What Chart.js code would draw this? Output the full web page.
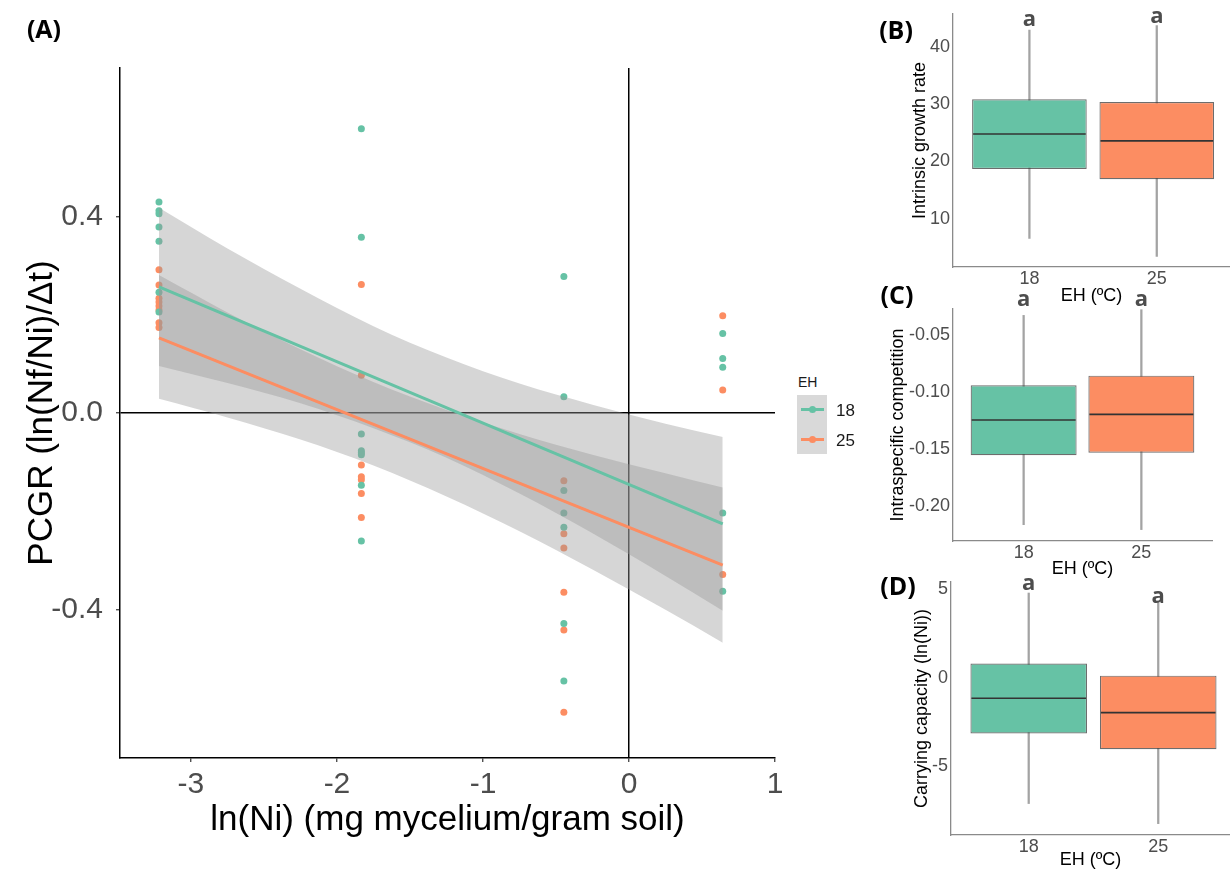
<!DOCTYPE html>
<html>
<head>
<meta charset="utf-8">
<script src="https://cdn.jsdelivr.net/npm/chart.js@4.4.1/dist/chart.umd.min.js"></script>
<style>
html,body{margin:0;padding:0;background:#fff;}
#wrap{position:relative;width:1230px;height:871px;overflow:hidden;background:#fff;font-family:'Liberation Sans',Arial,sans-serif;}
canvas{position:absolute;}
.plab{position:absolute;font-family:'Open Sans',sans-serif;font-weight:700;font-size:25px;line-height:1;transform:translate(-50%,-50%);color:#000;white-space:nowrap;}
.lg{position:absolute;font-family:'Liberation Sans',Arial,sans-serif;line-height:1;transform:translateY(-50%);color:#1a1a1a;white-space:nowrap;}
.klin{position:absolute;width:23px;height:3px;}
.kdot{position:absolute;width:7px;height:7px;border-radius:50%;}
</style>
</head>
<body>
<div id="wrap">
<canvas id="cA" width="790" height="871" style="left:0px;top:0px"></canvas>
<canvas id="cB" width="360" height="310" style="left:870px;top:0px"></canvas>
<canvas id="cC" width="360" height="300" style="left:870px;top:280px"></canvas>
<canvas id="cD" width="360" height="306" style="left:870px;top:565px"></canvas>

<div class="plab" style="left:44px;top:28px">(A)</div>
<div class="plab" style="left:896px;top:29px">(B)</div>
<div class="plab" style="left:897px;top:294px">(C)</div>
<div class="plab" style="left:898px;top:585px">(D)</div>

<div class="lg" style="left:798px;top:382px;font-size:14px">EH</div>
<div style="position:absolute;left:797px;top:395px;width:30px;height:59px;background:#D9D9D9"></div>
<div class="klin" style="left:801px;top:408px;background:#66C2A5"></div>
<div class="kdot" style="left:808.5px;top:406px;background:#66C2A5"></div>
<div class="klin" style="left:801px;top:438px;background:#FC8D62"></div>
<div class="kdot" style="left:808.5px;top:436px;background:#FC8D62"></div>
<div class="lg" style="left:836px;top:410px;font-size:17px">18</div>
<div class="lg" style="left:836px;top:440px;font-size:17px">25</div>
</div>

<script>
// ---------------- data: panel A ----------------
const nickel = [-3.219, -1.833, -0.446, 0.642];
const pcgr18 = [
  [0.430, 0.412, 0.406, 0.379, 0.350, 0.246, 0.206],
  [0.579, 0.358, -0.043, -0.077, -0.081, -0.085, -0.147, -0.261],
  [0.278, 0.033, -0.158, -0.204, -0.233, -0.429, -0.546],
  [0.162, 0.111, 0.093, -0.204, -0.363]
];
const pcgr25 = [
  [0.292, 0.261, 0.234, 0.226, 0.218, 0.210, 0.184, 0.174],
  [0.262, 0.077, -0.106, -0.130, -0.136, -0.164, -0.213],
  [-0.138, -0.246, -0.275, -0.365, -0.442, -0.610],
  [0.198, 0.047, -0.329]
];
const fitX = [-3.219, 0.642];
const fit18 = [0.257, -0.226];
const fit25 = [0.153, -0.310];
const bandX = [-3.219, -2.75, -2.25, -1.75, -1.25, -0.75, -0.25, 0.25, 0.642];
const ci18Upper = [0.418, 0.335, 0.253, 0.177, 0.113, 0.060, 0.017, -0.022, -0.049];
const ci18Lower = [0.096, 0.061, 0.020, -0.031, -0.091, -0.164, -0.245, -0.332, -0.403];
const ci25Upper = [0.281, 0.205, 0.130, 0.063, 0.006, -0.043, -0.085, -0.123, -0.152];
const ci25Lower = [0.029, -0.009, -0.054, -0.107, -0.170, -0.241, -0.319, -0.401, -0.468];
const xTicksA = [-3, -2, -1, 0, 1];
const yTicksA = [-0.4, 0, 0.4];

// ---------------- data: box panels ----------------
const groups = ['18', '25'];
const growthQ1 = [18.7, 16.9], growthMed = [24.8, 23.6], growthQ3 = [30.9, 30.4];
const growthLo = [6.55, 3.4], growthHi = [43.0, 43.8];
const growthLetters = ['a', 'a'], growthLetterY = [44.8, 45.3];
const growthTicks = [10, 20, 30, 40];

const compQ1 = [-0.1555, -0.1534], compMed = [-0.1247, -0.1197], compQ3 = [-0.0942, -0.0858];
const compLo = [-0.2164, -0.2207], compHi = [-0.033, -0.028];
const compLetters = ['a', 'a'], compLetterY = [-0.019, -0.019];
const compTicks = [-0.20, -0.15, -0.10, -0.05];

const capQ1 = [-3.15, -4.03], capMed = [-1.165, -1.97], capQ3 = [0.79, 0.11];
const capLo = [-7.09, -8.22], capHi = [4.76, 4.31];
const capLetters = ['a', 'a'], capLetterY = [5.29, 4.56];
const capTicks = [-5, 0, 5];

// ---------------- styling ----------------
const GREEN = '#66C2A5', ORANGE = '#FC8D62';
const BAND = 'rgba(153,153,153,0.4)';
const TICKCOL = '#4D4D4D';
const FONT = "'Liberation Sans', Arial, sans-serif";
Chart.defaults.font.family = FONT;
Chart.defaults.animation = false;

const toXY = (xs, ys) => xs.map((x, i) => ({x: x, y: ys[i]}));
const pts = (cols) => cols.flatMap((col, i) => col.map(y => ({x: nickel[i], y: y})));
const setTicks = (vals) => (axis) => { axis.ticks = vals.map(v => ({value: v})); };

// ---------------- panel A ----------------
const bandLine = {borderWidth: 0, borderColor: 'rgba(0,0,0,0)', pointRadius: 0, cubicInterpolationMode: 'monotone', showLine: true};
new Chart(document.getElementById('cA'), {
  type: 'line',
  data: {
    datasets: [
      {label: 'fit18', data: toXY(fitX, fit18), borderColor: GREEN, borderWidth: 3, pointRadius: 0, fill: false},
      {label: 'fit25', data: toXY(fitX, fit25), borderColor: ORANGE, borderWidth: 3, pointRadius: 0, fill: false},
      Object.assign({label: 'ci18u', data: toXY(bandX, ci18Upper), fill: '+1', backgroundColor: BAND}, bandLine),
      Object.assign({label: 'ci18l', data: toXY(bandX, ci18Lower), fill: false}, bandLine),
      Object.assign({label: 'ci25u', data: toXY(bandX, ci25Upper), fill: '+1', backgroundColor: BAND}, bandLine),
      Object.assign({label: 'ci25l', data: toXY(bandX, ci25Lower), fill: false}, bandLine),
      {label: '18', data: pts(pcgr18), showLine: false, pointRadius: 3.5, pointBackgroundColor: GREEN, pointBorderWidth: 0, borderColor: GREEN},
      {label: '25', data: pts(pcgr25), showLine: false, pointRadius: 3.5, pointBackgroundColor: ORANGE, pointBorderWidth: 0, borderColor: ORANGE}
    ]
  },
  options: {
    responsive: false,
    animation: false,
    layout: {padding: {top: 68, right: 15, left: 0, bottom: 0}},
    plugins: {legend: {display: false}, tooltip: {enabled: false}},
    scales: {
      x: {
        type: 'linear', min: -3.486, max: 1.0,
        afterBuildTicks: setTicks(xTicksA),
        afterFit: (a) => { a.height = 113; },
        border: {display: true, color: '#000', width: 1.5},
        grid: {color: (c) => (c.tick && c.tick.value === 0) ? '#000' : 'rgba(0,0,0,0)', lineWidth: 1.5,
               drawTicks: true, tickLength: 4, tickColor: '#333', tickWidth: 1.2},
        ticks: {autoSkip: false, maxRotation: 0, color: TICKCOL, font: {size: 30}, padding: 5,
                callback: (v) => String(v)},
        title: {display: true, text: 'ln(Ni) (mg mycelium/gram soil)', color: '#000', font: {size: 35}, padding: {top: 0, bottom: 30}}
      },
      y: {
        type: 'linear', min: -0.703, max: 0.703,
        afterBuildTicks: setTicks(yTicksA),
        afterFit: (a) => { a.width = 120; },
        border: {display: true, color: '#000', width: 1.5},
        grid: {color: (c) => (c.tick && c.tick.value === 0) ? '#000' : 'rgba(0,0,0,0)', lineWidth: 1.5,
               drawTicks: true, tickLength: 4, tickColor: '#333', tickWidth: 1.2},
        ticks: {autoSkip: false, color: TICKCOL, font: {size: 30}, padding: 13,
                callback: (v) => Number(v).toFixed(1)},
        title: {display: true, text: 'PCGR (ln(Nf/Ni)/Δt)', color: '#000', font: {size: 35}, padding: {top: 21, bottom: 0}}
      }
    }
  }
});

// ---------------- box panels ----------------
const boxPlugin = {
  id: 'boxExtras',
  afterDatasetsDraw(chart, args, opts) {
    const ctx = chart.ctx;
    const meta = chart.getDatasetMeta(0);
    const ys = chart.scales.y;
    ctx.save();
    ctx.strokeStyle = '#333333';
    ctx.lineWidth = 1.6;
    opts.medians.forEach((m, i) => {
      const el = meta.data[i];
      const p = el.getProps(['x', 'width'], true);
      const y = ys.getPixelForValue(m);
      ctx.beginPath();
      ctx.moveTo(p.x - p.width / 2 + 1, y);
      ctx.lineTo(p.x + p.width / 2 - 1, y);
      ctx.stroke();
    });
    ctx.restore();
  },
  afterDraw(chart, args, opts) {
    const ctx = chart.ctx;
    ctx.save();
    ctx.fillStyle = '#4D4D4D';
    ctx.font = "700 22px 'Open Sans', sans-serif";
    ctx.textAlign = 'center';
    ctx.textBaseline = 'middle';
    opts.letters.forEach((t, i) => {
      const x = chart.scales.x.getPixelForValue(i + 1);
      const y = chart.scales.y.getPixelForValue(opts.letterY[i]);
      ctx.fillText(t, x, y);
    });
    ctx.restore();
  }
};

function boxChart(id, c) {
  const pos = groups.map((g, i) => i + 1);
  new Chart(document.getElementById(id), {
    type: 'bar',
    plugins: [boxPlugin],
    data: {
      datasets: [
        {label: 'box', data: pos.map((p, i) => ({x: p, y: [c.q1[i], c.q3[i]]})),
         backgroundColor: [GREEN, ORANGE], borderColor: 'rgba(60,60,60,0.75)', borderWidth: 1.2,
         borderSkipped: false, grouped: false, categoryPercentage: 1, barPercentage: 0.9},
        {label: 'whisker', data: pos.map((p, i) => ({x: p, y: [c.lo[i], c.hi[i]]})),
         backgroundColor: '#A3A3A3', borderWidth: 0, grouped: false, barThickness: 1.6}
      ]
    },
    options: {
      responsive: false,
      animation: false,
      layout: {padding: c.padding},
      plugins: {legend: {display: false}, tooltip: {enabled: false},
                boxExtras: {medians: c.med, letters: c.letters, letterY: c.letterY}},
      scales: {
        x: {
          type: 'linear', min: 0.4, max: c.xmax, offset: false,
          afterBuildTicks: setTicks(pos),
          afterFit: (a) => { a.height = c.xh; },
          border: {display: true, color: '#8a8a8a', width: 1.3},
          grid: {drawOnChartArea: false, offset: false, drawTicks: false},
          ticks: {autoSkip: false, maxRotation: 0, color: TICKCOL, font: {size: 18}, padding: 1,
                  callback: (v) => groups[Math.round(v) - 1]},
          title: {display: true, text: 'EH (ºC)', color: '#000', font: {size: 18}, padding: {top: 0, bottom: c.xtpad}}
        },
        y: {
          type: 'linear', min: c.ymin, max: c.ymax,
          afterBuildTicks: setTicks(c.ticks),
          afterFit: (a) => { a.width = c.yw; },
          border: {display: true, color: '#8a8a8a', width: 1.3},
          grid: {drawOnChartArea: false, drawTicks: false},
          ticks: {autoSkip: false, color: TICKCOL, font: {size: 18}, padding: 3, callback: c.fmt},
          title: {display: true, text: c.title, color: '#000', font: {size: 18}, padding: {top: c.ytpad, bottom: 0}}
        }
      }
    }
  });
}

boxChart('cB', {
  q1: growthQ1, med: growthMed, q3: growthQ3, lo: growthLo, hi: growthHi,
  letters: growthLetters, letterY: growthLetterY, ticks: growthTicks,
  ymin: 1.54, ymax: 45.84, xmax: 2.575, yw: 83, xh: 43, xtpad: 3, ytpad: 39,
  padding: {top: 13, right: 0, left: 0, bottom: 0},
  title: 'Intrinsic growth rate', fmt: (v) => String(v)
});
boxChart('cC', {
  q1: compQ1, med: compMed, q3: compQ3, lo: compLo, hi: compHi,
  letters: compLetters, letterY: compLetterY, ticks: compTicks,
  ymin: -0.2307, ymax: -0.0274, xmax: 2.6, yw: 83, xh: 39, xtpad: 0, ytpad: 17,
  padding: {top: 29, right: 18, left: 0, bottom: 0},
  title: 'Intraspecific competition', fmt: (v) => Number(v).toFixed(2)
});
boxChart('cD', {
  q1: capQ1, med: capMed, q3: capQ3, lo: capLo, hi: capHi,
  letters: capLetters, letterY: capLetterY, ticks: capTicks,
  ymin: -8.86, ymax: 5.38, xmax: 2.554, yw: 81, xh: 36, xtpad: 0, ytpad: 41,
  padding: {top: 17, right: 0, left: 0, bottom: 0},
  title: 'Carrying capacity (ln(Ni))', fmt: (v) => String(v)
});
</script>
</body>
</html>
